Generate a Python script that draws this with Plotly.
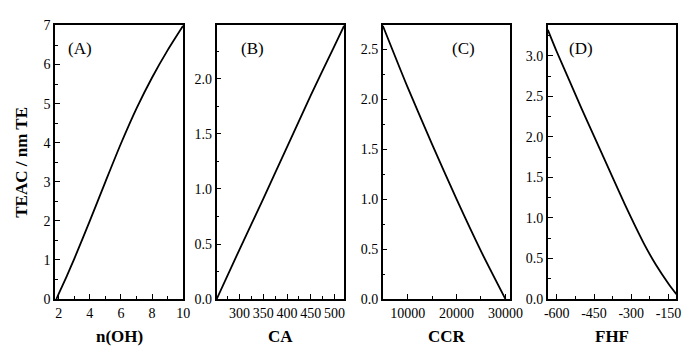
import plotly.graph_objects as go

# ---- data ----
nOH_x = [1.85, 2, 2.5, 3, 4, 5, 6, 7, 8, 9, 10]
teac_A = [0, 0.13, 0.57, 1.03, 2.0, 3.0, 3.98, 4.88, 5.67, 6.37, 7.0]

CA_x = [252, 300, 350, 400, 450, 500, 520.5]
teac_B = [0, 0.45, 0.91, 1.38, 1.85, 2.30, 2.485]

CCR_x = [4900, 10000, 15000, 20000, 25000, 30000]
teac_C = [2.74, 2.12, 1.55, 1.00, 0.48, 0.0]

FHF_x = [-636, -600, -550, -500, -450, -400, -350, -300, -250, -200, -150, -118]
teac_D = [3.32, 3.05, 2.70, 2.35, 2.01, 1.67, 1.33, 1.00, 0.69, 0.42, 0.19, 0.06]

panel_labels = ["(A)", "(B)", "(C)", "(D)"]
x_titles = ["n(OH)", "CA", "CCR", "FHF"]
y_title = "TEAC / nm TE"

A_xticks = [2, 4, 6, 8, 10]
A_yticks = [0, 1, 2, 3, 4, 5, 6, 7]
B_xticks = [300, 350, 400, 450, 500]
C_xticks = [10000, 20000, 30000]
D_xticks = [-600, -450, -300, -150]
D_xticktext = ["-600", "-450", "-300", "-150"]
B_yticks = [0.0, 0.5, 1.0, 1.5, 2.0]
C_yticks = [0.0, 0.5, 1.0, 1.5, 2.0, 2.5]
D_yticks = [0.0, 0.5, 1.0, 1.5, 2.0, 2.5, 3.0]

W, H = 693, 354
FONT = "Liberation Serif, Times New Roman, serif"

# pixel layout
px_x = [(52.3, 183.5), (217.7, 348.3), (387.7, 518.3), (556.7, 688.3)]
py_top, py_bot = 19.3, 305.0
ydom = [1 - py_bot / H, 1 - py_top / H]

fig = go.Figure()
series = [(nOH_x, teac_A), (CA_x, teac_B), (CCR_x, teac_C), (FHF_x, teac_D)]
for i, (xs, ys) in enumerate(series):
    sfx = "" if i == 0 else str(i + 1)
    fig.add_trace(go.Scatter(x=xs, y=ys, mode="lines",
                             line=dict(color="black", width=1.8, shape="spline", smoothing=0.7),
                             xaxis="x" + sfx, yaxis="y" + sfx, showlegend=False, hoverinfo="skip"))

def axis_common():
    return dict(showline=True, mirror=True, linecolor="black", linewidth=1.5,
                ticks="inside", ticklen=5, tickwidth=1, tickcolor="black",
                showgrid=False, zeroline=False,
                tickfont=dict(family=FONT, size=14, color="black"))

xranges = [[1.77, 10], [252, 520.5], [4900, 31000], [-636, -118]]
yranges = [[0, 7], [0, 2.485], [0, 2.74], [0, 3.374]]
xtickvals = [A_xticks, B_xticks, C_xticks, D_xticks]
xticktexts = [[str(v) for v in A_xticks], [str(v) for v in B_xticks], [str(v) for v in C_xticks], D_xticktext]
xminor = [1, 25, 5000, 75]
xminor0 = [0, 0, 0, -600]
ytickvals = [A_yticks, B_yticks, C_yticks, D_yticks]
yticktexts = [[str(v) for v in A_yticks]] + [["%.1f" % v for v in t] for t in (B_yticks, C_yticks, D_yticks)]
yminor = [0.5, 0.25, 0.25, 0.25]

layout = dict(width=W, height=H, margin=dict(l=0, r=0, t=0, b=0),
              paper_bgcolor="white", plot_bgcolor="white", showlegend=False)
for i in range(4):
    sfx = "" if i == 0 else str(i + 1)
    xa = axis_common()
    xa.update(domain=[px_x[i][0] / W, px_x[i][1] / W], range=xranges[i], anchor="y" + sfx,
              tickmode="array", tickvals=xtickvals[i], ticktext=xticktexts[i],
              minor=dict(ticks="inside", ticklen=3, tickcolor="black", dtick=xminor[i], tick0=xminor0[i], showgrid=False))
    ya = axis_common()
    ya.update(domain=ydom, range=yranges[i], anchor="x" + sfx,
              tickmode="array", tickvals=ytickvals[i], ticktext=yticktexts[i],
              minor=dict(ticks="inside", ticklen=3, tickcolor="black", dtick=yminor[i], tick0=0, showgrid=False))
    layout["xaxis" + sfx] = xa
    layout["yaxis" + sfx] = ya

annotations = []
label_px = [78, 254, 470, 590.5]
for i in range(4):
    annotations.append(dict(text=panel_labels[i], x=label_px[i] / W, y=1 - 43.3 / H, xref="paper", yref="paper",
                            xanchor="center", yanchor="middle", showarrow=False,
                            font=dict(family=FONT, size=17, color="black")))
    cx = (px_x[i][0] + px_x[i][1]) / 2
    annotations.append(dict(text="<b>%s</b>" % x_titles[i], x=cx / W, y=1 - 344 / H, xref="paper", yref="paper",
                            xanchor="center", yanchor="middle", showarrow=False,
                            font=dict(family=FONT, size=17, color="black")))
annotations.append(dict(text="<b>%s</b>" % y_title, x=18 / W, y=1 - 162 / H, xref="paper", yref="paper",
                        xanchor="center", yanchor="middle", textangle=-90, showarrow=False,
                        font=dict(family=FONT, size=17, color="black")))
layout["annotations"] = annotations

fig.update_layout(**layout)
fig.write_html("out.html")
